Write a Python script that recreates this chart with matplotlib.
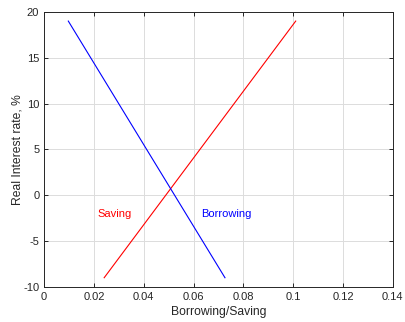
import matplotlib.pyplot as plt
import numpy as np

plt.rcParams["font.family"] = ["Liberation Sans", "DejaVu Sans"]
plt.rcParams["axes.unicode_minus"] = False

# endpoints of the two straight lines
saving_x = [0.0241, 0.101]
saving_y = [-9, 19]
borrowing_x = [0.0097, 0.0726]
borrowing_y = [19, -9]

fig = plt.figure(figsize=(4.05, 3.22), dpi=100)
ax = fig.add_axes([0.109, 0.109, 0.861, 0.854])

ax.plot(saving_x, saving_y, color="red", linewidth=0.8)
ax.plot(borrowing_x, borrowing_y, color="blue", linewidth=0.8)

ax.text(0.0214, -2, "Saving", color="red", fontsize=8, va="center")
ax.text(0.0630, -2, "Borrowing", color="blue", fontsize=8, va="center")

ax.set_xlim(0, 0.14)
ax.set_ylim(-10, 20)
ax.set_xticks(np.arange(0, 0.141, 0.02))
ax.set_xticklabels(["0", "0.02", "0.04", "0.06", "0.08", "0.1", "0.12", "0.14"])
ax.set_yticks(np.arange(-10, 21, 5))

ax.grid(True, color="#dcdcdc", linewidth=0.7)
ax.set_axisbelow(True)
ax.tick_params(direction="in", top=True, right=True, labelsize=8,
               colors="#262626", length=3, width=0.7)
for s in ax.spines.values():
    s.set_color("#262626")
    s.set_linewidth(0.7)

ax.set_xlabel("Borrowing/Saving", fontsize=8.7, color="#262626", labelpad=3)
ax.set_ylabel("Real Interest rate, %", fontsize=8.7, color="#262626", labelpad=0)

fig.savefig("out.png", dpi=100)
